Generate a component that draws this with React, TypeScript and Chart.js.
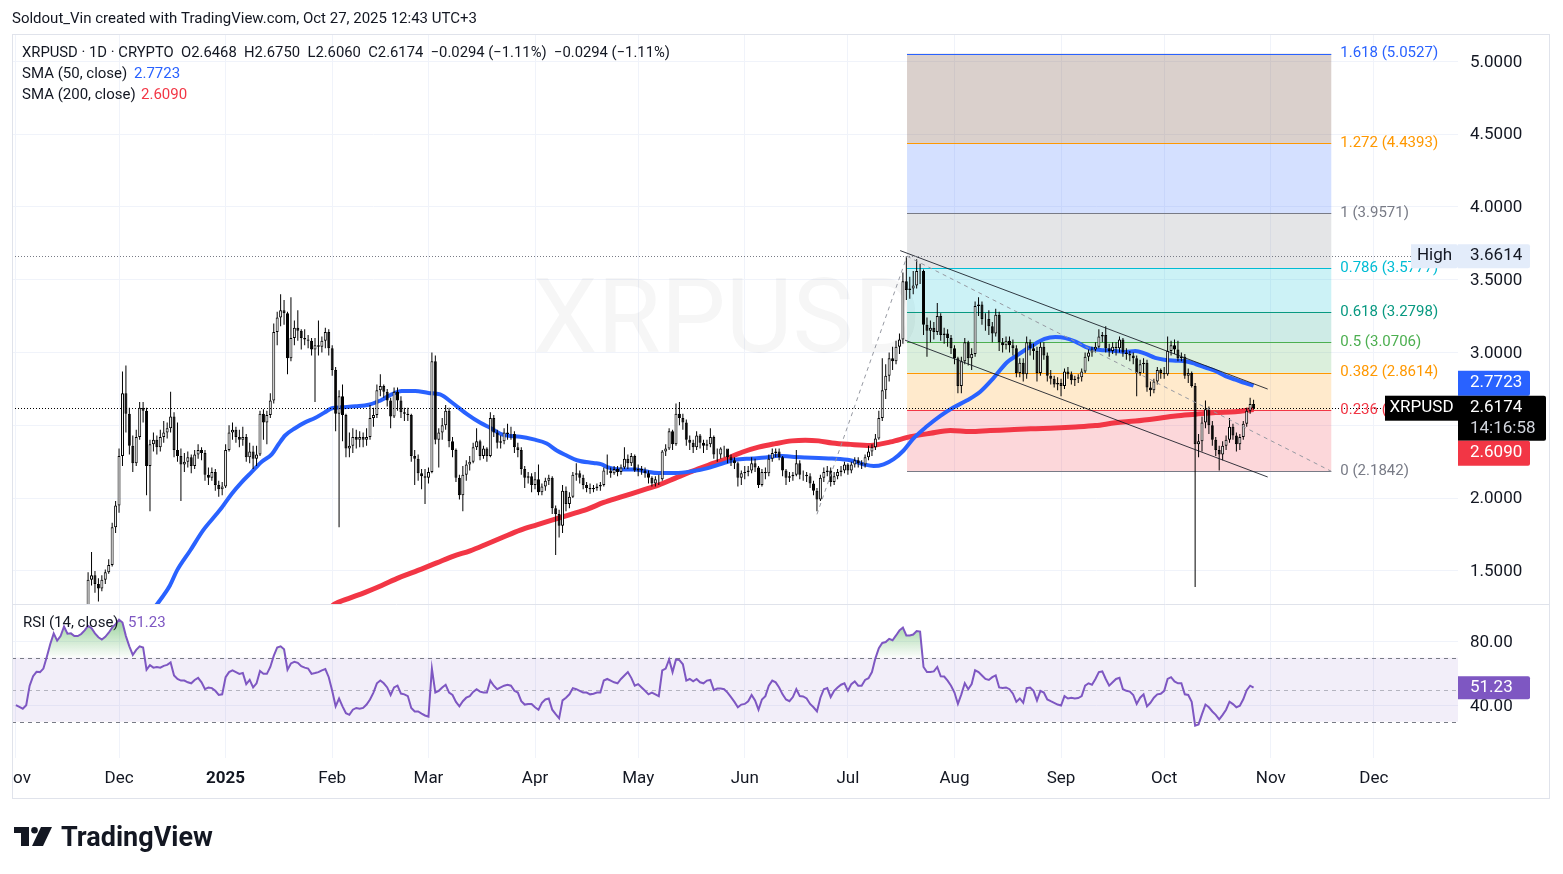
import React, { useEffect, useRef } from 'react';
import { Chart, registerables } from 'chart.js';

Chart.register(...registerables);

const FONT = 'Roboto, "Noto Sans", "DejaVu Sans", sans-serif';
const INK = '#131722';

// ---------------- DATA ----------------
// Daily candles, day 0 = 1 Nov 2024 ... day 360 = 27 Oct 2025
const FIRST_OPEN = 0.52;
const closes = [
  0.51,0.51,0.50,0.51,0.51,0.54,0.55,0.56,0.57,0.60,
  0.63,0.71,0.70,0.76,0.98,1.12,1.06,1.13,1.10,1.10,
  1.16,1.44,1.47,1.41,1.38,1.44,1.49,1.54,1.80,1.95,
  2.29,2.72,2.58,2.36,2.24,2.42,2.62,2.60,2.22,2.37,
  2.40,2.35,2.42,2.45,2.48,2.56,2.33,2.29,2.23,2.25,
  2.28,2.22,2.30,2.33,2.31,2.16,2.14,2.18,2.09,2.06,
  2.08,2.33,2.45,2.47,2.42,2.40,2.42,2.28,2.32,2.27,
  2.30,2.58,2.52,2.57,2.67,3.14,3.24,3.29,3.27,2.96,
  3.10,3.17,3.15,3.10,3.09,3.08,3.02,3.05,3.04,3.08,
  3.14,3.03,2.88,2.58,2.70,2.57,2.34,2.36,2.42,2.40,
  2.42,2.40,2.42,2.55,2.57,2.74,2.77,2.73,2.67,2.56,
  2.73,2.67,2.59,2.58,2.57,2.29,2.27,2.17,2.15,2.14,
  2.18,2.94,2.40,2.45,2.50,2.60,2.39,2.33,2.14,2.02,
  2.16,2.23,2.25,2.35,2.39,2.29,2.34,2.29,2.55,2.45,
  2.38,2.39,2.45,2.44,2.44,2.35,2.33,2.20,2.14,2.15,
  2.09,2.13,2.04,2.08,2.12,2.14,1.93,1.89,1.81,2.05,
  1.96,2.01,2.16,2.17,2.14,2.09,2.07,2.06,2.07,2.08,
  2.09,2.19,2.19,2.17,2.20,2.18,2.21,2.27,2.24,2.29,
  2.19,2.20,2.19,2.17,2.14,2.10,2.13,2.13,2.32,2.34,
  2.46,2.37,2.58,2.55,2.52,2.40,2.38,2.35,2.43,2.38,
  2.36,2.37,2.42,2.30,2.30,2.34,2.34,2.28,2.26,2.24,
  2.14,2.17,2.18,2.19,2.24,2.21,2.09,2.18,2.17,2.27,
  2.31,2.32,2.28,2.19,2.14,2.15,2.16,2.24,2.16,2.16,
  2.15,2.10,2.05,1.99,2.14,2.18,2.19,2.11,2.15,2.18,
  2.19,2.23,2.19,2.23,2.26,2.24,2.23,2.28,2.32,2.35,
  2.41,2.55,2.74,2.84,2.96,2.94,3.04,3.09,3.49,3.43,
  3.44,3.46,3.56,3.56,3.19,3.15,3.17,3.14,3.25,3.12,
  3.13,3.10,3.03,2.96,2.77,2.94,3.07,2.96,2.99,3.32,
  3.33,3.23,3.23,3.18,3.13,3.26,3.07,3.05,3.08,3.05,
  3.03,2.86,2.93,2.85,3.07,3.03,3.01,2.86,3.04,2.98,
  2.84,2.82,2.78,2.79,2.77,2.87,2.85,2.81,2.82,2.83,
  2.87,2.97,3.00,3.02,3.04,3.11,3.12,3.03,3.01,3.04,
  3.03,3.09,3.00,2.99,2.98,2.96,2.86,2.92,2.93,2.76,
  2.74,2.80,2.88,2.86,2.85,3.01,3.05,3.02,2.96,2.97,
  2.84,2.86,2.77,2.37,2.39,2.52,2.61,2.50,2.40,2.33,
  2.30,2.36,2.40,2.49,2.43,2.37,2.42,2.51,2.60,2.6468,
  2.6174,
];
const highs = [
  0.53,0.52,0.52,0.52,0.52,0.56,0.56,0.57,0.58,0.61,
  0.66,0.79,0.75,0.83,1.02,1.24,1.15,1.27,1.19,1.16,
  1.19,1.49,1.63,1.50,1.45,1.47,1.51,1.58,1.83,1.98,
  2.34,2.87,2.91,2.62,2.43,2.47,2.66,2.66,2.62,2.40,
  2.45,2.43,2.47,2.53,2.52,2.73,2.59,2.52,2.34,2.31,
  2.32,2.30,2.33,2.37,2.35,2.33,2.21,2.21,2.20,2.12,
  2.11,2.37,2.50,2.52,2.49,2.47,2.49,2.44,2.38,2.36,
  2.36,2.60,2.61,2.60,2.72,3.20,3.28,3.40,3.36,3.28,
  3.38,3.22,3.29,3.16,3.16,3.12,3.10,3.10,3.22,3.11,
  3.17,3.16,3.05,2.90,2.74,2.78,2.58,2.45,2.48,2.47,
  2.46,2.45,2.48,2.64,2.62,2.78,2.85,2.78,2.75,2.69,
  2.76,2.76,2.70,2.62,2.62,2.58,2.33,2.30,2.20,2.20,
  2.21,3.00,2.98,2.48,2.55,2.64,2.62,2.42,2.34,2.16,
  2.22,2.26,2.29,2.38,2.48,2.40,2.36,2.35,2.59,2.57,
  2.47,2.43,2.48,2.51,2.49,2.46,2.38,2.35,2.22,2.18,
  2.17,2.18,2.23,2.10,2.14,2.16,2.15,1.95,1.92,2.09,
  2.08,2.04,2.18,2.24,2.19,2.16,2.11,2.10,2.09,2.10,
  2.11,2.21,2.30,2.21,2.22,2.22,2.23,2.35,2.30,2.31,
  2.30,2.23,2.22,2.21,2.19,2.15,2.15,2.16,2.33,2.37,
  2.48,2.47,2.65,2.66,2.58,2.54,2.43,2.40,2.46,2.44,
  2.40,2.40,2.48,2.43,2.34,2.35,2.36,2.33,2.30,2.28,
  2.25,2.19,2.22,2.22,2.28,2.27,2.22,2.20,2.21,2.30,
  2.34,2.34,2.34,2.29,2.20,2.18,2.18,2.33,2.26,2.19,
  2.18,2.17,2.12,2.07,2.16,2.21,2.22,2.21,2.18,2.20,
  2.22,2.25,2.24,2.25,2.28,2.28,2.26,2.30,2.36,2.37,
  2.44,2.60,2.96,2.92,3.00,3.04,3.08,3.13,3.55,3.6614,
  3.52,3.56,3.64,3.61,3.57,3.24,3.22,3.21,3.34,3.27,
  3.17,3.16,3.12,3.05,2.97,2.97,3.10,3.08,3.03,3.35,
  3.38,3.35,3.27,3.29,3.21,3.30,3.28,3.10,3.11,3.11,
  3.09,3.05,2.96,2.96,3.11,3.09,3.06,3.04,3.07,3.07,
  3.00,2.88,2.84,2.83,2.82,2.89,2.90,2.87,2.84,2.85,
  2.89,3.00,3.02,3.04,3.07,3.16,3.14,3.18,3.06,3.07,
  3.07,3.11,3.10,3.03,3.01,3.00,2.98,2.95,2.96,2.95,
  2.80,2.82,2.90,2.89,2.90,3.11,3.08,3.09,3.08,3.00,
  2.99,2.89,2.87,2.79,2.44,2.56,2.67,2.63,2.53,2.42,
  2.36,2.39,2.43,2.55,2.51,2.45,2.44,2.53,2.62,2.69,
  2.6750,
];
const lows = [
  0.50,0.50,0.49,0.49,0.50,0.51,0.53,0.55,0.55,0.56,
  0.59,0.61,0.66,0.68,0.75,0.98,1.01,1.05,1.04,1.05,
  1.08,1.16,1.40,1.35,1.29,1.36,1.41,1.48,1.53,1.76,
  1.90,2.22,2.45,2.30,2.18,2.22,2.40,2.52,2.02,1.91,
  2.32,2.30,2.32,2.38,2.41,2.45,2.28,2.25,1.98,2.18,
  2.21,2.17,2.20,2.27,2.26,2.12,2.09,2.12,2.05,2.01,
  2.02,2.07,2.32,2.40,2.38,2.35,2.36,2.25,2.24,2.20,
  2.22,2.29,2.40,2.37,2.55,2.65,3.05,3.18,3.19,2.85,
  2.94,3.05,3.08,3.02,3.05,3.03,2.98,2.66,2.98,3.00,
  3.03,2.98,2.84,2.46,1.80,2.39,2.28,2.28,2.31,2.34,
  2.35,2.35,2.36,2.40,2.49,2.55,2.70,2.69,2.63,2.48,
  2.55,2.60,2.55,2.53,2.53,2.25,2.09,2.12,2.06,1.96,
  2.10,2.17,2.37,2.21,2.40,2.47,2.35,2.28,2.11,1.99,
  1.91,2.12,2.19,2.24,2.33,2.26,2.27,2.25,2.28,2.42,
  2.34,2.34,2.37,2.40,2.40,2.31,2.28,2.16,2.07,2.10,
  2.04,2.06,2.02,2.02,2.05,2.09,1.89,1.61,1.73,1.76,
  1.91,1.93,2.00,2.12,2.10,2.06,2.04,2.03,2.04,2.05,
  2.05,2.08,2.16,2.14,2.16,2.15,2.16,2.20,2.20,2.22,
  2.18,2.15,2.16,2.14,2.10,2.08,2.08,2.09,2.12,2.29,
  2.33,2.33,2.36,2.50,2.47,2.36,2.33,2.31,2.33,2.34,
  2.31,2.33,2.35,2.27,2.25,2.27,2.28,2.24,2.22,2.20,
  2.08,2.09,2.13,2.15,2.17,2.18,2.07,2.08,2.13,2.15,
  2.25,2.28,2.26,2.15,2.09,2.11,2.12,2.15,2.13,2.12,
  2.11,2.07,2.02,1.91,1.98,2.11,2.15,2.08,2.09,2.13,
  2.15,2.17,2.16,2.17,2.21,2.21,2.20,2.21,2.26,2.29,
  2.33,2.40,2.53,2.68,2.80,2.88,2.92,2.99,3.06,3.36,
  3.37,3.40,3.44,3.47,3.12,2.97,3.07,3.09,3.12,3.08,
  3.06,3.04,2.99,2.92,2.72,2.72,2.92,2.91,2.88,2.97,
  3.25,3.19,3.15,3.12,3.07,3.11,3.01,3.00,3.02,3.00,
  2.98,2.83,2.83,2.80,2.82,2.98,2.95,2.80,2.84,2.95,
  2.80,2.78,2.76,2.74,2.70,2.75,2.82,2.78,2.77,2.79,
  2.80,2.86,2.94,2.97,3.00,3.03,3.07,3.00,2.97,2.99,
  2.98,3.00,2.97,2.95,2.94,2.92,2.70,2.84,2.86,2.73,
  2.70,2.72,2.78,2.82,2.82,2.84,2.98,2.99,2.94,2.94,
  2.82,2.79,2.76,1.39,2.28,2.32,2.48,2.44,2.36,2.29,
  2.19,2.26,2.33,2.38,2.40,2.32,2.33,2.40,2.49,2.58,
  2.6060,
];
const rsiValues = [
  40.3,39.2,38.1,40.3,52.5,58.4,61.2,61.0,63.2,70.6,
  78.6,85.2,80.7,83.5,89.5,85.0,85.2,83.5,83.5,84.8,
  87.1,89.9,88.4,85.2,82.8,81.3,83.0,85.6,88.8,91.0,
  93.7,92.0,83.5,77.1,71.7,74.9,77.1,76.4,62.5,65.3,
  63.8,64.2,63.8,64.9,65.5,67.0,58.9,56.7,55.7,55.7,
  54.6,54.0,56.1,57.4,54.6,50.3,51.4,51.0,49.3,46.7,
  47.1,57.8,61.0,62.1,61.0,59.9,60.4,53.5,56.1,51.4,
  54.0,61.7,59.9,59.9,64.2,71.1,76.4,77.1,75.3,62.5,
  66.4,67.4,66.8,64.7,63.8,63.2,59.9,60.4,61.0,62.1,
  62.9,57.8,49.3,39.6,44.5,39.6,35.3,34.3,37.5,38.6,
  38.1,38.6,40.7,43.9,48.2,54.0,55.7,54.0,51.4,46.7,
  51.4,52.5,47.6,47.1,46.0,38.6,36.4,36.4,35.1,33.9,
  33.2,63.2,48.2,49.3,51.4,53.1,48.2,46.7,42.4,39.6,
  42.8,45.0,46.0,48.6,50.3,48.8,48.2,48.2,55.7,52.5,
  50.3,51.4,52.5,53.1,52.5,49.3,48.2,42.8,40.7,41.1,
  41.1,39.0,37.5,41.8,43.9,44.5,37.5,34.7,32.1,43.3,
  45.0,47.1,51.0,50.3,49.3,48.2,48.2,47.1,47.5,48.2,
  48.2,55.7,56.7,55.7,54.6,54.0,56.7,58.9,61.0,57.4,
  52.5,53.5,51.4,49.3,47.1,48.2,47.1,46.0,62.1,63.2,
  68.9,61.0,68.9,68.5,65.9,55.7,56.7,55.2,56.7,54.6,
  54.0,55.7,56.1,49.7,50.7,50.7,50.3,48.2,45.4,42.4,
  39.0,40.7,41.1,42.8,46.7,43.3,37.5,43.9,46.0,52.5,
  55.7,54.6,51.4,47.1,43.9,42.8,45.4,50.3,46.0,45.8,
  44.5,41.1,39.0,36.4,45.0,50.3,51.0,45.4,49.3,51.4,
  53.1,54.0,49.3,53.5,55.2,52.5,52.5,56.1,57.2,61.0,
  69.6,76.0,79.2,79.8,81.8,80.9,83.9,87.1,88.8,83.9,
  83.9,84.5,86.7,86.3,64.2,61.0,61.0,61.4,64.2,58.4,
  58.2,55.7,52.5,48.2,41.1,47.1,54.0,50.3,53.5,62.1,
  61.0,58.9,56.7,56.1,57.8,58.9,51.4,51.0,51.4,50.3,
  47.5,42.4,44.5,41.8,51.0,51.4,49.3,43.3,49.3,48.2,
  43.9,42.8,41.8,40.7,40.1,46.0,44.5,45.0,44.5,44.8,
  46.0,52.5,54.0,53.1,56.7,61.0,61.4,56.7,52.5,54.6,
  56.7,57.4,50.3,49.3,48.8,46.7,41.1,45.0,47.1,39.6,
  41.8,45.0,47.1,47.5,49.3,56.7,57.8,55.2,54.0,54.0,
  47.1,46.7,42.4,27.5,28.3,34.7,40.7,39.0,36.4,34.3,
  31.5,34.3,37.5,42.5,41.0,39.0,40.0,44.0,49.7,52.5,
  51.23,
];

const sma50Days = [40,41,44.8,46.8,50.7,54.5,58,59.9,62.8,65.7,68.6,71.5,74.4,76.4,78.3,81.2,84.1,87,89.9,91.9,94.8,98.7,102.6,105.5,107.4,109.3,112.2,116.1,120,123.4,127.3,131.2,135.1,138,141.8,146.7,150.6,154.4,157.3,160.3,163.2,168,170.4,172,175.8,180.2,183.1,186.9,191.8,196.6,201.5,206.3,209.2,214.1,218,221.9,225.7,229.6,233.5,237.4,242.7,246.6,249.5,252.4,255.3,258.2,261.1,265,268.9,272.8,276.7,280.5,284.4,288.3,291.2,295.1,299.2,302.4,305.3,308.2,311.1,314,316.9,319.8,322.7,325.6,328.5,331.4,334.4,337.3,340.2,343.1,346,348.9,351.8,354.7,357.6,360];
const sma50Values = [1.24,1.27,1.40,1.50,1.64,1.78,1.88,1.935,2.03,2.11,2.18,2.25,2.30,2.37,2.43,2.48,2.52,2.55,2.59,2.617,2.624,2.631,2.641,2.665,2.688,2.712,2.736,2.736,2.722,2.712,2.648,2.577,2.517,2.482,2.434,2.422,2.403,2.375,2.327,2.291,2.26,2.241,2.232,2.213,2.196,2.196,2.184,2.172,2.172,2.184,2.208,2.244,2.263,2.272,2.279,2.291,2.284,2.279,2.275,2.272,2.26,2.232,2.22,2.232,2.268,2.327,2.41,2.493,2.565,2.624,2.672,2.731,2.826,2.933,2.98,3.039,3.093,3.106,3.099,3.075,3.039,3.02,3.015,3.011,3.004,3.011,2.992,2.963,2.949,2.944,2.94,2.921,2.897,2.873,2.838,2.814,2.79,2.7723];
const sma200Days = [92,92.9,96.7,101.6,106.4,111.3,116.1,122.4,127.3,132.1,137,141.8,146.7,151.5,156.4,161.2,166.1,171,175.8,182.1,186.9,191.8,196.6,201.5,206.3,211.2,216,220.9,225.7,229.6,233.5,237.4,242.7,248.5,254.4,260.2,266,271.8,277.6,283.4,289.2,295.1,302.4,308.2,314,319.8,325.6,331.4,337.3,343.1,348.9,354.7,360];
const sma200Values = [1.26,1.274,1.31,1.353,1.40,1.452,1.495,1.555,1.602,1.638,1.685,1.733,1.78,1.816,1.852,1.887,1.923,1.97,2.006,2.053,2.089,2.137,2.184,2.227,2.267,2.315,2.35,2.374,2.393,2.398,2.393,2.379,2.369,2.362,2.386,2.422,2.445,2.464,2.457,2.464,2.469,2.476,2.481,2.488,2.498,2.517,2.529,2.545,2.564,2.576,2.588,2.593,2.609];

const monthTickDays = [0, 30, 61, 92, 120, 151, 181, 212, 242, 273, 304, 334, 365, 395];
const monthTickLabels = ['Nov', 'Dec', '2025', 'Feb', 'Mar', 'Apr', 'May', 'Jun', 'Jul', 'Aug', 'Sep', 'Oct', 'Nov', 'Dec'];
const priceTickValues = [1.5, 2, 2.5, 3, 3.5, 4, 4.5, 5];
const priceTickLabels = ['1.5000', '2.0000', '', '3.0000', '3.5000', '4.0000', '4.5000', '5.0000'];
const rsiTickValues = [40, 80];
const rsiTickLabels = ['40.00', '80.00'];

const fibRatios = [0, 0.236, 0.382, 0.5, 0.618, 0.786, 1, 1.272, 1.618];
const fibPrices = [2.1842, 2.6026, 2.8614, 3.0706, 3.2798, 3.5777, 3.9571, 4.4393, 5.0527];
const fibSpanDays = [259.2, 382.6];
const channelUpper = [[257.2, 3.70], [364.1, 2.749]];
const channelLower = [[258.6, 3.085], [364.1, 2.145]];
const trendUp = [[233, 1.8885], [259.2, 3.6614]];
const trendDown = [[259.2, 3.6614], [382.6, 2.1842]];

const HIGH_PRICE = 3.6614;
const LAST_PRICE = 2.6174;
const SMA50_LAST = 2.7723;
const SMA200_LAST = 2.609;
const RSI_LAST = 51.23;

// ---------------- STYLE ----------------
const X_MIN = -1.134, X_MAX = 419.46;
const P_MIN = 1.2727, P_MAX = 5.1875;
const R_MIN = 7.31, R_MAX = 103.56;
const FIB_LINE_COLORS = ['#787b86', '#f23645', '#ff9800', '#4caf50', '#089981', '#00bcd4', '#787b86', '#ff9800', '#2962ff'];
const FIB_FILL_COLORS = ['rgba(242,54,69,0.2)', 'rgba(255,152,0,0.2)', 'rgba(76,175,80,0.2)', 'rgba(8,153,129,0.2)', 'rgba(0,188,212,0.2)', 'rgba(120,123,134,0.2)', 'rgba(41,98,255,0.2)', 'rgba(121,85,72,0.28)'];

const opens = closes.map((c, i) => (i === 0 ? FIRST_OPEN : closes[i - 1]));

function hline(ctx: CanvasRenderingContext2D, x1: number, x2: number, y: number, color: string, dash: number[] = [], w = 1) {
  ctx.save();
  ctx.strokeStyle = color; ctx.lineWidth = w; ctx.setLineDash(dash);
  const yy = Math.round(y) + 0.5;
  ctx.beginPath(); ctx.moveTo(x1, yy); ctx.lineTo(x2, yy); ctx.stroke();
  ctx.restore();
}
function seg(ctx: CanvasRenderingContext2D, x1: number, y1: number, x2: number, y2: number, color: string, dash: number[] = [], w = 1) {
  ctx.save();
  ctx.strokeStyle = color; ctx.lineWidth = w; ctx.setLineDash(dash);
  ctx.beginPath(); ctx.moveTo(x1, y1); ctx.lineTo(x2, y2); ctx.stroke();
  ctx.restore();
}
function txt(ctx: CanvasRenderingContext2D, s: string, x: number, y: number, font: string, color: string, align: CanvasTextAlign = 'left') {
  ctx.font = font; ctx.fillStyle = color; ctx.textAlign = align; ctx.textBaseline = 'middle';
  ctx.fillText(s, x, y);
}
function rbox(ctx: CanvasRenderingContext2D, x: number, y: number, w: number, h: number, color: string) {
  ctx.fillStyle = color;
  ctx.beginPath();
  const r = 2;
  ctx.moveTo(x, y); ctx.lineTo(x + w - r, y); ctx.quadraticCurveTo(x + w, y, x + w, y + r);
  ctx.lineTo(x + w, y + h - r); ctx.quadraticCurveTo(x + w, y + h, x + w - r, y + h);
  ctx.lineTo(x, y + h); ctx.closePath(); ctx.fill();
}

const tvPlugin = {
  id: 'tvOverlay',
  beforeDatasetDraw(chart: any, args: any) {
    const meta = args.meta;
    const ctx = chart.ctx;
    ctx.save();
    ctx.beginPath();
    ctx.rect(meta.xScale.left, meta.yScale.top, meta.xScale.right - meta.xScale.left, meta.yScale.bottom - meta.yScale.top);
    ctx.clip();
  },
  afterDatasetDraw(chart: any) {
    chart.ctx.restore();
  },
  beforeDatasetsDraw(chart: any) {
    const ctx: CanvasRenderingContext2D = chart.ctx;
    const ca = chart.chartArea;
    const xs = chart.scales.x, ys = chart.scales.y, rs = chart.scales.rsi;
    // price pane
    ctx.save();
    ctx.beginPath(); ctx.rect(ca.left, ys.top, ca.right - ca.left, ys.bottom - ys.top); ctx.clip();
    ctx.fillStyle = 'rgba(42,46,57,0.045)';
    ctx.font = `103px ${FONT}`; ctx.textAlign = 'center'; ctx.textBaseline = 'alphabetic';
    ctx.fillText('XRPUSD', 727, 352);
    const fx1 = xs.getPixelForValue(fibSpanDays[0]);
    const fx2 = xs.getPixelForValue(fibSpanDays[1]);
    for (let i = 0; i < fibPrices.length - 1; i++) {
      const ya = ys.getPixelForValue(fibPrices[i]);
      const yb = ys.getPixelForValue(fibPrices[i + 1]);
      ctx.fillStyle = FIB_FILL_COLORS[i];
      ctx.fillRect(fx1, yb, fx2 - fx1, ya - yb);
    }
    for (let i = 0; i < fibPrices.length; i++) {
      hline(ctx, fx1, fx2, ys.getPixelForValue(fibPrices[i]), FIB_LINE_COLORS[i]);
    }
    ctx.restore();
    // RSI pane
    ctx.save();
    ctx.beginPath(); ctx.rect(ca.left, rs.top, ca.right - ca.left, rs.bottom - rs.top); ctx.clip();
    const y70 = rs.getPixelForValue(70), y30 = rs.getPixelForValue(30), y50 = rs.getPixelForValue(50);
    ctx.fillStyle = 'rgba(126,87,194,0.1)';
    ctx.fillRect(ca.left, y70, ca.right - ca.left, y30 - y70);
    hline(ctx, ca.left, ca.right, y70, '#787b86', [4, 4]);
    hline(ctx, ca.left, ca.right, y30, '#787b86', [4, 4]);
    hline(ctx, ca.left, ca.right, y50, 'rgba(120,123,134,0.5)', [4, 4]);
    const path = (yRef: number) => {
      ctx.beginPath();
      ctx.moveTo(xs.getPixelForValue(0), yRef);
      rsiValues.forEach((v, i) => ctx.lineTo(xs.getPixelForValue(i), rs.getPixelForValue(v)));
      ctx.lineTo(xs.getPixelForValue(rsiValues.length - 1), yRef);
      ctx.closePath();
    };
    ctx.save();
    ctx.beginPath(); ctx.rect(ca.left, rs.top, ca.right - ca.left, y70 - rs.top); ctx.clip();
    path(y70);
    const g = ctx.createLinearGradient(0, rs.getPixelForValue(95), 0, y70);
    g.addColorStop(0, 'rgba(76,175,80,0.6)'); g.addColorStop(1, 'rgba(76,175,80,0.02)');
    ctx.fillStyle = g; ctx.fill();
    ctx.restore();
    ctx.save();
    ctx.beginPath(); ctx.rect(ca.left, y30, ca.right - ca.left, rs.bottom - y30); ctx.clip();
    path(y30);
    const g2 = ctx.createLinearGradient(0, y30, 0, rs.getPixelForValue(15));
    g2.addColorStop(0, 'rgba(242,54,69,0.02)'); g2.addColorStop(1, 'rgba(242,54,69,0.6)');
    ctx.fillStyle = g2; ctx.fill();
    ctx.restore();
    ctx.restore();
  },
  afterDatasetsDraw(chart: any) {
    const ctx: CanvasRenderingContext2D = chart.ctx;
    const ca = chart.chartArea;
    const xs = chart.scales.x, ys = chart.scales.y;
    const P = (p: number[]) => [xs.getPixelForValue(p[0]), ys.getPixelForValue(p[1])];
    ctx.save();
    ctx.beginPath(); ctx.rect(ca.left, ys.top, ca.right - ca.left, ys.bottom - ys.top); ctx.clip();
    for (const ln of [trendUp, trendDown]) {
      const a = P(ln[0]), b = P(ln[1]);
      seg(ctx, a[0], a[1], b[0], b[1], '#9598a1', [4, 4]);
    }
    for (const ln of [channelUpper, channelLower]) {
      const a = P(ln[0]), b = P(ln[1]);
      seg(ctx, a[0], a[1], b[0], b[1], 'rgba(19,23,34,0.85)');
    }
    ctx.restore();
    // dotted price lines
    hline(ctx, ca.left, 1411, ys.getPixelForValue(HIGH_PRICE), '#787b86', [1, 2]);
    hline(ctx, ca.left, 1385, ys.getPixelForValue(LAST_PRICE), '#000000', [1, 2]);
    // fib labels
    const fx2 = xs.getPixelForValue(fibSpanDays[1]);
    for (let i = 0; i < fibPrices.length; i++) {
      txt(ctx, `${fibRatios[i]} (${fibPrices[i].toFixed(4)})`, fx2 + 9, ys.getPixelForValue(fibPrices[i]), `15px ${FONT}`, FIB_LINE_COLORS[i]);
    }
  },
  afterDraw(chart: any) {
    const ctx: CanvasRenderingContext2D = chart.ctx;
    const ca = chart.chartArea;
    const xs = chart.scales.x, ys = chart.scales.y, rs = chart.scales.rsi;
    const axisFont = `17px ${FONT}`;
    const lx = ca.right + 12;
    // axis labels
    priceTickValues.forEach((v, i) => {
      if (priceTickLabels[i]) txt(ctx, priceTickLabels[i], lx, ys.getPixelForValue(v) + 1, axisFont, INK);
    });
    rsiTickValues.forEach((v, i) => txt(ctx, rsiTickLabels[i], lx, rs.getPixelForValue(v) + 1, axisFont, INK));
    ctx.save();
    ctx.beginPath(); ctx.rect(ca.left, ca.bottom, 1550 - ca.left, 40); ctx.clip();
    monthTickDays.forEach((d, i) => {
      const bold = monthTickLabels[i] === '2025';
      txt(ctx, monthTickLabels[i], xs.getPixelForValue(d), 779, `${bold ? 'bold ' : ''}17px ${FONT}`, INK, 'center');
    });
    ctx.restore();
    // right-side label boxes
    const yH = ys.getPixelForValue(HIGH_PRICE);
    rbox(ctx, 1411, yH - 12, 47, 24, '#e3ecfa');
    txt(ctx, 'High', 1434.5, yH, axisFont, INK, 'center');
    rbox(ctx, 1458, yH - 12, 72, 24, '#e3ecfa');
    txt(ctx, HIGH_PRICE.toFixed(4), lx, yH, axisFont, INK);
    const lastTop = ys.getPixelForValue(LAST_PRICE) - 12.5;
    const blueTop = Math.min(ys.getPixelForValue(SMA50_LAST) - 12.5, lastTop - 25);
    rbox(ctx, 1458, blueTop, 72, 25, '#2962ff');
    txt(ctx, SMA50_LAST.toFixed(4), lx, blueTop + 12.5, axisFont, '#ffffff');
    ctx.fillStyle = '#000000';
    ctx.fillRect(1385, lastTop, 73, 25);
    txt(ctx, 'XRPUSD', 1421.5, lastTop + 12.5, axisFont, '#ffffff', 'center');
    rbox(ctx, 1458, lastTop, 88, 45, '#000000');
    txt(ctx, LAST_PRICE.toFixed(4), lx, lastTop + 12.5, axisFont, '#ffffff');
    txt(ctx, '14:16:58', lx, lastTop + 33, axisFont, '#d1d4dc');
    rbox(ctx, 1458, lastTop + 45, 72, 25, '#f23645');
    txt(ctx, SMA200_LAST.toFixed(4), lx, lastTop + 57.5, axisFont, '#ffffff');
    const yR = rs.getPixelForValue(RSI_LAST);
    rbox(ctx, 1458, yR - 11.5, 72, 23, '#7e57c2');
    txt(ctx, RSI_LAST.toFixed(2), lx, yR, axisFont, '#ffffff');
    // legends
    const lf = `15px ${FONT}`;
    txt(ctx, 'Soldout_Vin created with TradingView.com, Oct 27, 2025 12:43 UTC+3', 12, 19, lf, INK);
    txt(ctx, 'XRPUSD · 1D · CRYPTO  O2.6468  H2.6750  L2.6060  C2.6174  −0.0294 (−1.11%)  −0.0294 (−1.11%)', 22, 53, `14.8px ${FONT}`, INK);
    txt(ctx, 'SMA (50, close)', 22, 74, lf, INK);
    txt(ctx, SMA50_LAST.toFixed(4), 134, 74, lf, '#2962ff');
    txt(ctx, 'SMA (200, close)', 22, 95, lf, INK);
    txt(ctx, SMA200_LAST.toFixed(4), 141, 95, lf, '#f23645');
    txt(ctx, 'RSI (14, close)', 23, 623, lf, INK);
    txt(ctx, RSI_LAST.toFixed(2), 128, 623, lf, '#7e57c2');
    // frame
    ctx.save();
    ctx.strokeStyle = '#e0e3eb'; ctx.lineWidth = 1;
    ctx.strokeRect(12.5, 34.5, 1537, 764);
    ctx.restore();
    hline(ctx, 12, 1550, ys.bottom, '#e0e3eb');
    // TradingView logo
    ctx.fillStyle = INK;
    ctx.fillRect(14, 827, 15, 6);
    ctx.fillRect(21, 827, 8, 19);
    ctx.beginPath(); ctx.arc(34.5, 830.2, 3.3, 0, Math.PI * 2); ctx.fill();
    ctx.beginPath(); ctx.moveTo(41, 827); ctx.lineTo(52, 827); ctx.lineTo(43, 846); ctx.lineTo(32, 846); ctx.closePath(); ctx.fill();
    ctx.font = `bold 27px ${FONT}`; ctx.textAlign = 'left'; ctx.textBaseline = 'alphabetic'; ctx.fillStyle = INK;
    ctx.fillText('TradingView', 61, 846);
  },
};

export default function App() {
  const ref = useRef<HTMLCanvasElement>(null);
  useEffect(() => {
    const canvas = ref.current;
    if (!canvas) return;
    const chart = new Chart(canvas, {
      type: 'bar',
      data: {
        datasets: [
          {
            type: 'line', label: 'RSI', yAxisID: 'rsi',
            data: rsiValues.map((v, i) => ({ x: i, y: v })),
            borderColor: '#7e57c2', borderWidth: 2, pointRadius: 0, order: 0, clip: false,
          },
          {
            type: 'bar', label: 'bodies', yAxisID: 'y',
            data: closes.map((c, i) => ({ x: i, y: [opens[i], c] })),
            backgroundColor: closes.map((c, i) => (c >= opens[i] ? '#ffffff' : '#000000')),
            borderColor: '#000000', borderWidth: 1, borderSkipped: false,
            barThickness: 3, grouped: false, inflateAmount: 0, order: 1, clip: false,
          },
          {
            type: 'bar', label: 'wicks', yAxisID: 'y',
            data: closes.map((c, i) => ({ x: i, y: [lows[i], highs[i]] })),
            backgroundColor: '#000000', borderWidth: 0,
            barThickness: 1, grouped: false, inflateAmount: 0, order: 2, clip: false,
          },
          {
            type: 'line', label: 'SMA 50', yAxisID: 'y',
            data: sma50Days.map((d, i) => ({ x: d, y: sma50Values[i] })),
            borderColor: '#2962ff', borderWidth: 4, pointRadius: 0,
            cubicInterpolationMode: 'monotone', order: 3, clip: false,
          },
          {
            type: 'line', label: 'SMA 200', yAxisID: 'y',
            data: sma200Days.map((d, i) => ({ x: d, y: sma200Values[i] })),
            borderColor: '#f23645', borderWidth: 5, pointRadius: 0,
            cubicInterpolationMode: 'monotone', order: 4, clip: false,
          },
        ] as any,
      },
      options: {
        responsive: false,
        animation: false,
        events: [],
        layout: { padding: { left: 12, top: 34, right: 105, bottom: 116 } },
        plugins: { legend: { display: false }, tooltip: { enabled: false } },
        scales: {
          x: {
            type: 'linear', min: X_MIN, max: X_MAX, offset: false,
            grid: { color: '#f0f3fa', drawTicks: false, offset: false },
            border: { display: false },
            ticks: { display: false },
            afterBuildTicks: (s: any) => { s.ticks = monthTickDays.map((v) => ({ value: v })); },
            afterFit: (s: any) => { s.height = 0; },
          },
          y: {
            type: 'linear', position: 'right', stack: 'panes', stackWeight: 570,
            min: P_MIN, max: P_MAX,
            grid: { color: '#f0f3fa', drawTicks: false },
            border: { display: false },
            ticks: { display: false },
            afterBuildTicks: (s: any) => { s.ticks = priceTickValues.map((v) => ({ value: v })); },
            afterFit: (s: any) => { s.width = 0; },
          },
          rsi: {
            type: 'linear', position: 'right', stack: 'panes', stackWeight: 154,
            min: R_MIN, max: R_MAX,
            grid: { color: '#f0f3fa', drawTicks: false },
            border: { display: false },
            ticks: { display: false },
            afterBuildTicks: (s: any) => { s.ticks = rsiTickValues.map((v) => ({ value: v })); },
            afterFit: (s: any) => { s.width = 0; },
          },
        } as any,
      },
      plugins: [tvPlugin as any],
    });
    return () => chart.destroy();
  }, []);
  return (
    <canvas
      ref={ref}
      width={1563}
      height={874}
      style={{ position: 'absolute', left: 0, top: 0, width: 1563, height: 874, display: 'block' }}
    />
  );
}
